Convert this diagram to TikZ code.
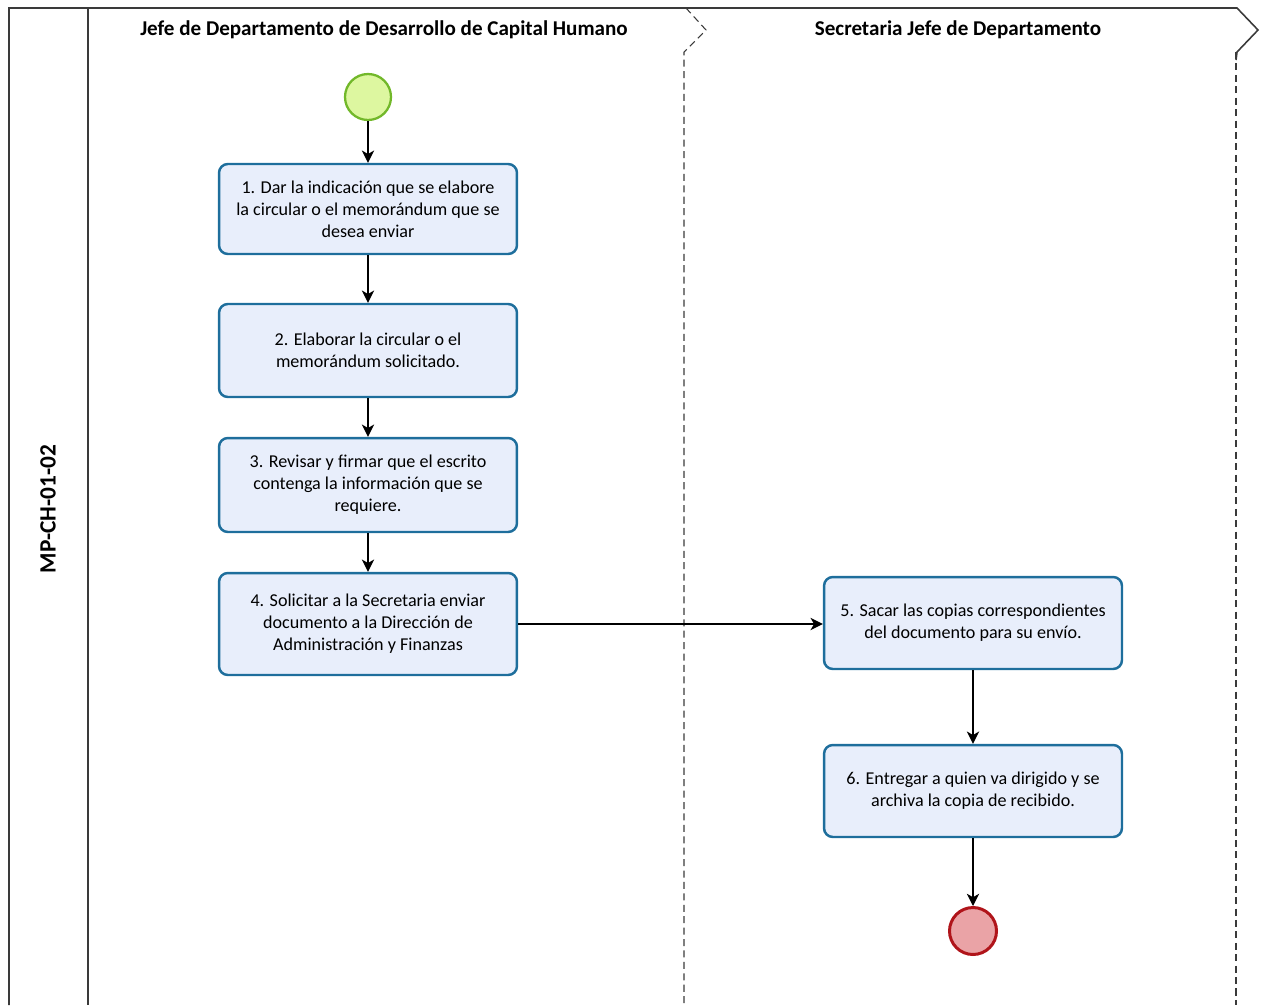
\documentclass[tikz,border=0pt]{standalone}
\usepackage{fontspec}
\setmainfont{Carlito}
\usetikzlibrary{arrows.meta}
\definecolor{boxfill}{HTML}{E8EEFB}
\definecolor{boxline}{HTML}{1E6E9C}
\definecolor{startfill}{HTML}{DDF7A0}
\definecolor{startline}{HTML}{72B82A}
\definecolor{endfill}{HTML}{EAA3A6}
\definecolor{endline}{HTML}{B0141A}
\definecolor{frameline}{HTML}{3A3A3A}
\begin{document}
\begin{tikzpicture}[x=0.02cm,y=-0.02cm,
  task/.style={draw=boxline,fill=boxfill,line width=1.4pt,rounded corners=5pt,
    minimum width=5.96cm,align=center,font=\fontsize{10.3}{12.5}\selectfont,inner sep=0pt},
  startev/.style={circle,draw=startline,fill=startfill,line width=1.3pt,minimum size=0.92cm,inner sep=0pt},
  endev/.style={circle,draw=endline,fill=endfill,line width=1.7pt,minimum size=0.94cm,inner sep=0pt},
  flow/.style={draw=black,line width=0.8pt,-{Stealth[length=7pt,width=7pt,inset=2pt]}},
  frame/.style={draw=frameline,line width=0.9pt},
  lanediv/.style={draw=frameline,line width=0.6pt,dash pattern=on 4pt off 2.5pt},
  header/.style={font=\bfseries\fontsize{12}{14}\selectfont}
]
\useasboundingbox (0,0) rectangle (1267,1005);
% frame
\draw[frame] (9,1005) -- (9,8) -- (1237,8) -- (1258,30) -- (1237,52) -- (1236,60);
\draw[lanediv] (1236,52) -- (1236,1005);
\draw[frame] (88,8) -- (88,1005);
\draw[lanediv] (686,8) -- (706,30) -- (684,52) -- (684,1005);
% labels
\node[font=\bfseries\fontsize{13.3}{15}\selectfont,rotate=90] (pool) at (48,509) {MP-CH-01-02};
\node[header] (lane1) at (384,30) {Jefe de Departamento de Desarrollo de Capital Humano};
\node[header] (lane2) at (958,30) {Secretaria Jefe de Departamento};
% events
\node[startev] (start) at (368,97) {};
\node[endev] (end) at (973,931) {};
% tasks
\node[task,minimum height=1.8cm] (t1) at (368,209) {1. Dar la indicación que se elabore\\la circular o el memorándum que se\\desea enviar};
\node[task,minimum height=1.86cm] (t2) at (368,350.5) {2. Elaborar la circular o el\\memorándum solicitado.};
\node[task,minimum height=1.88cm] (t3) at (368,485) {3. Revisar y firmar que el escrito\\contenga la información que se\\requiere.};
\node[task,minimum height=2.04cm] (t4) at (368,624) {4. Solicitar a la Secretaria enviar\\documento a la Dirección de\\Administración y Finanzas};
\node[task,minimum height=1.84cm] (t5) at (973,623) {5. Sacar las copias correspondientes\\del documento para su envío.};
\node[task,minimum height=1.84cm] (t6) at (973,791) {6. Entregar a quien va dirigido y se\\archiva la copia de recibido.};
% flows
\draw[flow] (start) -- (t1);
\draw[flow] (t1) -- (t2);
\draw[flow] (t2) -- (t3);
\draw[flow] (t3) -- (t4);
\draw[flow] (t4.east |- 0,624) -- (t5.west |- 0,624);
\draw[flow] (t5) -- (t6);
\draw[flow] (t6) -- (end);
\end{tikzpicture}
\end{document}
